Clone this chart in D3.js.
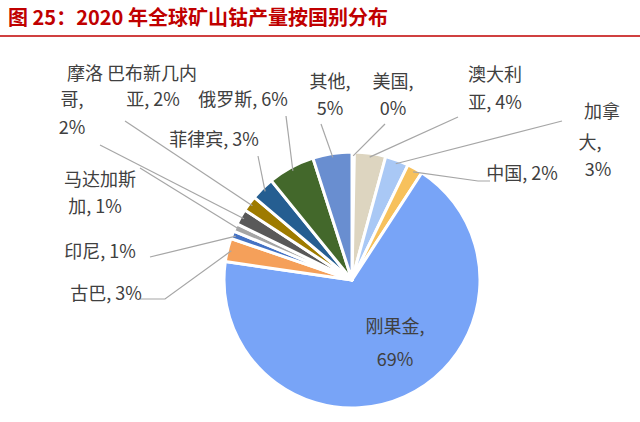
<!DOCTYPE html>
<html><head><meta charset="utf-8">
<script src="https://d3js.org/d3.v7.min.js"></script>
<style>body{margin:0;background:#fff;font-family:"Noto Sans CJK SC",sans-serif}</style>
</head><body>
<script>
  // 2020 global mine cobalt output by country, clockwise from top
  const countries = ['美国', '澳大利亚', '加拿大', '中国', '刚果金', '古巴', '印尼', '马达加斯加', '摩洛哥', '巴布新几内亚', '菲律宾', '俄罗斯', '其他'];
  const shares = [0.3, 4, 3, 2, 69, 3, 1, 1, 2, 2, 3, 6, 5];
  const pctText = ['0%', '4%', '3%', '2%', '69%', '3%', '1%', '1%', '2%', '2%', '3%', '6%', '5%'];
  const colors = ['#e6e6e6', '#ddd5c0', '#a9c8f5', '#f7c15c', '#78a4f7', '#f5a05a', '#4472c4', '#a5a5a5', '#595959', '#9e7b00', '#255e91', '#43682b', '#698ed0'];

  // label layout: lines of text and a leader line (start point, optional elbow)
  const labelLines = [
    [['美国,', 393, 88], ['0%', 393, 115]],
    [['澳大利', 495, 81], ['亚, 4%', 495, 109]],
    [['加拿', 602, 118], ['大,', 590, 149], ['3%', 598, 176]],
    [['中国, 2%', 522, 180]],
    [['刚果金,', 395, 333], ['69%', 395, 366]],
    [['古巴, 3%', 106, 300]],
    [['印尼, 1%', 100, 258]],
    [['马达加斯', 100, 186], ['加, 1%', 95, 213]],
    [['哥,', 72, 106], ['2%', 72, 134]],
    [['摩洛 巴布新几内', 132, 80], ['亚, 2%', 153, 106]],
    [['菲律宾, 3%', 214, 146]],
    [['俄罗斯, 6%', 243, 106]],
    [['其他,', 330, 88], ['5%', 330, 115]]
  ];
  const leaders = [
    [[385, 124]],
    [[458, 117]],
    [[562, 121]],
    [[490, 181], [478, 181]],
    null,
    [[140, 299], [165, 299]],
    [[150, 257]],
    [[140, 168]],
    [[100, 145]],
    [[125, 121]],
    [[258, 156]],
    [[286, 116]],
    [[321, 124]]
  ];

  const W = 640, H = 422, cx = 352, cy = 280, R = 128;
  const svg = d3.select('body').append('svg').attr('width', W).attr('height', H);

  svg.append('text').attr('x', 8).attr('y', 25).attr('fill', '#c00000')
    .attr('font-size', 20).attr('font-weight', 'bold').text('图 25：2020 年全球矿山钴产量按国别分布');
  svg.append('line').attr('x1', 0).attr('x2', W).attr('y1', 36).attr('y2', 36)
    .attr('stroke', '#c00000').attr('stroke-width', 1.5);

  const pie = d3.pie().sort(null).value(d => d)(shares);
  const arc = d3.arc().innerRadius(0).outerRadius(R);
  const edge = d3.arc().innerRadius(R * 0.97).outerRadius(R * 0.97);
  const g = svg.append('g').attr('transform', `translate(${cx},${cy})`);

  g.selectAll('path').data(pie).enter().append('path')
    .attr('d', arc).attr('fill', (d, i) => colors[i])
    .attr('stroke', '#fff').attr('stroke-width', 3).attr('stroke-linejoin', 'round');

  pie.forEach((d, i) => {
    if (!leaders[i]) return;
    const c = edge.centroid(d);
    const pts = leaders[i].concat([[c[0] + cx, c[1] + cy]]);
    svg.append('path').attr('d', d3.line()(pts)).attr('fill', 'none')
      .attr('stroke', '#a6a6a6').attr('stroke-width', 1.2);
  });

  labelLines.forEach((lines, i) => {
    lines.forEach(l => {
      svg.append('text').attr('x', l[1]).attr('y', l[2]).attr('text-anchor', 'middle')
        .attr('font-size', 18).attr('fill', '#404040').text(l[0]);
    });
  });
</script>
</body></html>
